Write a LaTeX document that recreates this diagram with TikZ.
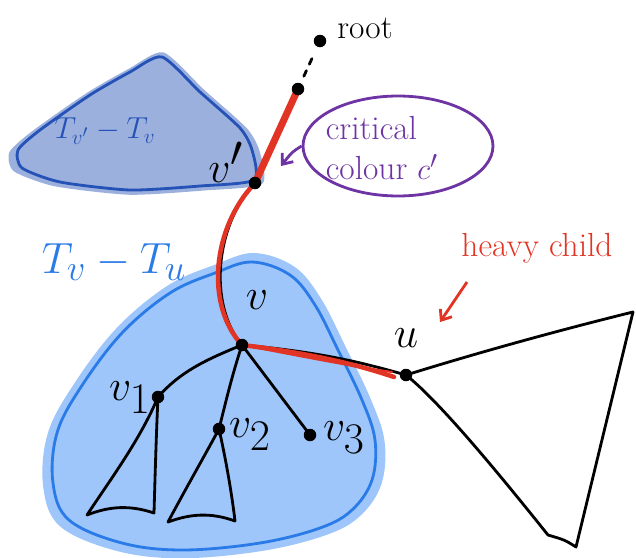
\documentclass[tikz,border=0pt]{standalone}
\usetikzlibrary{arrows.meta,shapes.geometric}
\definecolor{lightblob}{RGB}{158,198,250}
\definecolor{lightedge}{RGB}{42,122,232}
\definecolor{darkblob}{RGB}{156,176,222}
\definecolor{darkedge}{RGB}{36,82,182}
\definecolor{heavyred}{RGB}{226,52,36}
\definecolor{critpurple}{RGB}{110,52,164}
\tikzset{
  edge/.style={line width=1.6pt, line cap=round, line join=round},
  heavy/.style={heavyred, line width=2.6pt, line cap=round},
  dot/.style={circle, fill=black, inner sep=0pt, minimum size=0.25cm},
  vlabel/.style={font=\fontsize{34}{38}\selectfont},
  bigtext/.style={font=\fontsize{19}{23}\selectfont},
}
\begin{document}
\begin{tikzpicture}[x=0.02cm,y=-0.02cm]
\useasboundingbox (0,0) rectangle (636,558);
% T_{v'} - T_v
\fill[darkblob, scale around={1.07:(140,122)}]
  plot[smooth cycle, tension=0.4] coordinates {(162,57) (200,92) (240,128) (252,150) (254,180) (200,186) (130,190) (60,182) (22,168) (18,150) (40,130) (90,95) (130,72)};
\draw[darkedge, line width=1.6pt]
  plot[smooth cycle, tension=0.4] coordinates {(162,57) (200,92) (240,128) (252,150) (254,180) (200,186) (130,190) (60,182) (22,168) (18,150) (40,130) (90,95) (130,72)};
% T_v - T_u
\fill[lightblob, scale around={1.06:(215,412)}]
  plot[smooth cycle, tension=0.6] coordinates {(252,262) (290,275) (315,305) (338,350) (362,400) (375,440) (372,480) (352,510) (320,528) (260,543) (183,550) (122,543) (69,520) (53,483) (57,433) (81,387) (122,333) (170,293) (215,273)};
\draw[lightedge, line width=1.6pt]
  plot[smooth cycle, tension=0.6] coordinates {(252,262) (290,275) (315,305) (338,350) (362,400) (375,440) (372,480) (352,510) (320,528) (260,543) (183,550) (122,543) (69,520) (53,483) (57,433) (81,387) (122,333) (170,293) (215,273)};

\coordinate (root) at (320,41);
\coordinate (top) at (298,89);
\coordinate (vp) at (255,183);
\coordinate (v) at (242,345);
\coordinate (u) at (406,375);
\coordinate (v1) at (158,397);
\coordinate (v2) at (219,429);
\coordinate (v3) at (310,435);
\coordinate (v1l) at (87,515);
\coordinate (v1r) at (154,513);
\coordinate (v2l) at (168,522);
\coordinate (v2r) at (235,521);
\coordinate (ur) at (633,312);
\coordinate (ub) at (576,547);
\coordinate (ul) at (548,535);

\draw[edge, dash pattern=on 3.5pt off 4pt, shorten <=8pt, shorten >=8pt] (top) -- (root);
\draw[edge] (top) -- (vp);
\draw[edge] (vp) .. controls (215,225) and (208,305) .. (v);
\draw[edge] (v) .. controls (320,352) and (360,362) .. (u);
\draw[edge] (v) .. controls (205,360) and (180,372) .. (v1);
\draw[edge] (v) .. controls (232,375) and (225,405) .. (v2);
\draw[edge] (v) -- (v3);
\draw[edge] (v1) .. controls (156,440) and (155,480) .. (v1r)
  .. controls (130,505) and (110,506) .. (v1l)
  .. controls (110,480) and (140,440) .. (v1);
\draw[edge] (v2) .. controls (226,460) and (232,495) .. (v2r)
  .. controls (210,512) and (190,514) .. (v2l)
  .. controls (185,490) and (205,455) .. (v2);
\draw[edge] (u) .. controls (480,352) and (560,330) .. (ur)
  -- (ub) .. controls (565,540) .. (ul)
  .. controls (500,475) and (440,402) .. (u);

% heavy path
\draw[heavy, line width=4pt] (top) -- (vp);
\draw[heavy] (vp) .. controls (212,228) and (205,305) .. (v);
\draw[heavy] (v) .. controls (300,352) and (350,362) .. (394,377);
\draw[heavy, line width=1.2pt] (v) .. controls (310,358) and (350,366) .. (392,372);

\foreach \p in {root,top,vp,v,u,v1,v2,v3}
  \node[dot] (\p dot) at (\p) {};

\node[bigtext] (rootlab) at (365,28) {root};
\node[vlabel] (vplab) at (226,162) {$v'$};
\node[vlabel] (vlab) at (257,300) {$v$};
\node[vlabel] (ulab) at (406,338) {$u$};
\node[vlabel] (v1lab) at (130,398) {$v_1$};
\node[vlabel] (v2lab) at (250,435) {$v_2$};
\node[vlabel] (v3lab) at (344,438) {$v_3$};
\node[darkedge, font=\LARGE] (darklab) at (105,131) {$T_{v'}-T_v$};
\node[lightedge, font=\Huge] (lightlab) at (114,262) {$T_v-T_u$};

\node[draw=critpurple, line width=1.6pt, ellipse,
  minimum width=3.8cm, minimum height=2cm] (crit) at (398,146) {};
\node[critpurple, bigtext, align=left] (crittext) at (382,148) {critical\\colour $c'$};
\coordinate (critend) at (281,166);
\draw[critpurple, line width=1.6pt, -{Straight Barb[length=5pt,width=8pt]}]
  (crit.west) .. controls (292,152) .. (critend);

\node[heavyred, bigtext] (heavylab) at (537,248) {heavy child};
\coordinate (heavystart) at (467,282);
\coordinate (heavyend) at (440,322);
\draw[heavyred, line width=1.6pt, -{Straight Barb[length=5pt,width=8pt]}] (heavystart) -- (heavyend);
\end{tikzpicture}
\end{document}
